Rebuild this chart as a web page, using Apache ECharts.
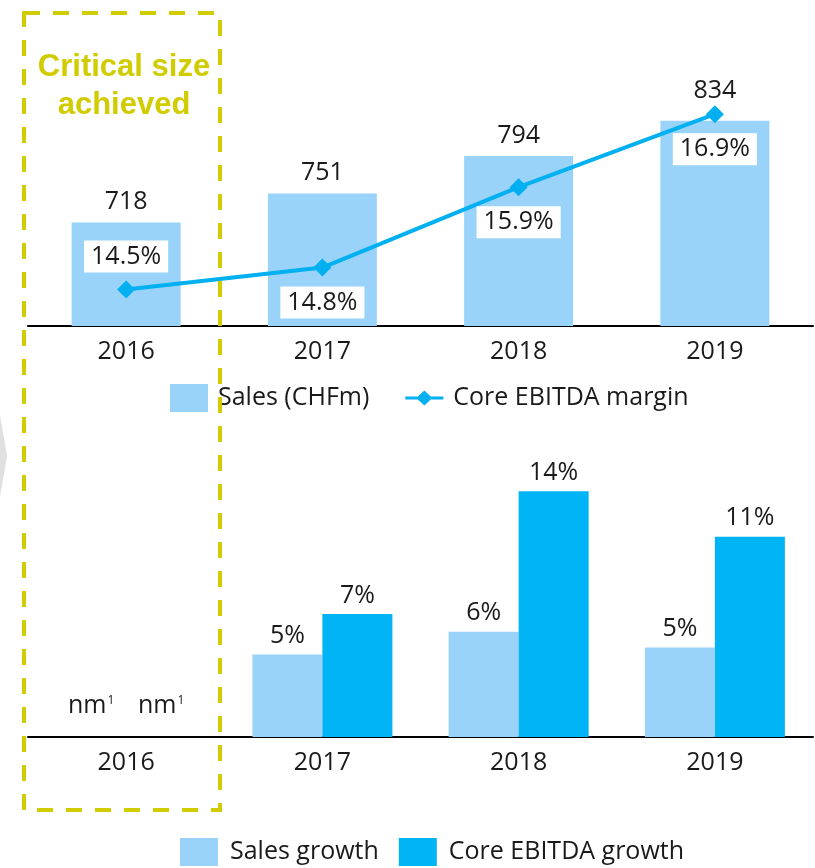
<!DOCTYPE html>
<html>
<head>
    <meta charset="utf-8">
    <title>Sales and Core EBITDA</title>
    <style>
        html, body { margin: 0; padding: 0; background: #fff; }
        #main { width: 815px; height: 868px; }
    </style>
</head>
<body>
    <div id="main"></div>
    <script src="https://cdn.jsdelivr.net/npm/echarts@6/dist/echarts.min.js"></script>
    <script type="text/javascript">
var years = ['2016', '2017', '2018', '2019'];
var sales = [718, 751, 794, 834];
var ebitdaMargin = [14.5, 14.8, 15.9, 16.9];
var marginLabelPos = ['top', 'bottom', 'bottom', 'bottom'];
var salesGrowth = [0, 4.7, 6.0, 5.1];
var ebitdaGrowth = [0, 7.0, 14.0, 11.4];

var lightBlue = '#99d3f9';
var blue = '#00b4f5';
var lineBlue = '#00b0f0';
var ink = '#1a1a1a';
var lime = '#d0cc00';

var myChart = echarts.init(document.getElementById('main'));

function growthLabel(p) {
    if (p.dataIndex === 0) return 'nm{sup|1}';
    return Math.round(p.value) + '%';
}

function growthData(arr) {
    return arr.map(function (v, i) {
        return i === 0 ? { value: v, label: { distance: 19 } } : v;
    });
}

var xLabel = { fontSize: 25, color: ink, margin: 13 };
var axisLine = { lineStyle: { color: '#000', width: 2 } };
// line with a diamond, for the legend
var lineIcon = 'path://M0,6 L12.5,6 L19,0 L25.5,6 L38,6 L38,9 L25.5,9 L19,15 L12.5,9 L0,9 Z';

option = {
    animation: false,
    textStyle: { fontFamily: 'Open Sans' },
    grid: [
        { left: 28, right: 2, top: 63, height: 263 },
        { left: 28, right: 2, top: 456, height: 281 }
    ],
    legend: [
        {
            data: [{ name: 'Sales (CHFm)', icon: 'rect' }, { name: 'Core EBITDA margin', icon: lineIcon }],
            left: 170, top: 384, padding: 0,
            itemWidth: 38, itemHeight: 28, itemGap: 36,
            textStyle: { fontSize: 25, color: ink, padding: [0, 0, 0, 5] }
        },
        {
            data: [{ name: 'Sales growth', icon: 'rect' }, { name: 'Core EBITDA growth', icon: 'rect' }],
            left: 180, top: 838, padding: 0,
            itemWidth: 38, itemHeight: 28, itemGap: 20,
            textStyle: { fontSize: 25, color: ink, padding: [0, 0, 0, 7] }
        }
    ],
    xAxis: [
        { type: 'category', gridIndex: 0, data: years, axisLine: axisLine,
          axisTick: { show: false }, axisLabel: xLabel },
        { type: 'category', gridIndex: 1, data: years, axisLine: axisLine,
          axisTick: { show: false }, axisLabel: xLabel }
    ],
    yAxis: [
        { type: 'value', gridIndex: 0, min: 600, max: 900, show: false, splitLine: { show: false } },
        { type: 'value', gridIndex: 0, min: 14, max: 17.6, show: false, splitLine: { show: false } },
        { type: 'value', gridIndex: 1, min: 0, max: 16, show: false, splitLine: { show: false } }
    ],
    series: [
        {
            name: 'Sales (CHFm)',
            type: 'bar',
            xAxisIndex: 0, yAxisIndex: 0,
            barWidth: 109,
            itemStyle: { color: lightBlue },
            label: { show: true, position: 'top', distance: 8, fontSize: 25, color: ink },
            // last label lifted clear of the margin marker
            data: sales.map(function (v, i) {
                return i === 3 ? { value: v, label: { distance: 17 } } : v;
            })
        },
        {
            name: 'Core EBITDA margin',
            type: 'line',
            xAxisIndex: 0, yAxisIndex: 1,
            symbol: 'diamond',
            symbolSize: 18,
            z: 5,
            lineStyle: { color: lineBlue, width: 4 },
            itemStyle: { color: lineBlue },
            label: {
                show: true, fontSize: 25, color: ink, lineHeight: 26,
                backgroundColor: '#fff', padding: [3, 7],
                formatter: function (p) { return p.value.toFixed(1) + '%'; }
            },
            data: ebitdaMargin.map(function (v, i) {
                return { value: v, label: { position: marginLabelPos[i], distance: i === 0 ? 8 : 10 } };
            })
        },
        {
            name: 'Sales growth',
            type: 'bar',
            xAxisIndex: 1, yAxisIndex: 2,
            barWidth: 70, barGap: '0%',
            itemStyle: { color: lightBlue },
            label: {
                show: true, position: 'top', distance: 6, fontSize: 25, color: ink,
                formatter: growthLabel,
                rich: { sup: { fontSize: 12, padding: [0, 0, 10, 1] } }
            },
            data: growthData(salesGrowth)
        },
        {
            name: 'Core EBITDA growth',
            type: 'bar',
            xAxisIndex: 1, yAxisIndex: 2,
            barWidth: 70, barGap: '0%',
            itemStyle: { color: blue },
            label: {
                show: true, position: 'top', distance: 6, fontSize: 25, color: ink,
                formatter: growthLabel,
                rich: { sup: { fontSize: 12, padding: [0, 0, 10, 1] } }
            },
            data: growthData(ebitdaGrowth)
        }
    ],
    graphic: [
        {
            type: 'polygon', z: 1,
            shape: { points: [[0, 415], [7, 456], [0, 497]] },
            style: { fill: '#e0e0e0' }
        },
        {
            type: 'rect', z: 100,
            shape: { x: 24, y: 13, width: 196, height: 797 },
            style: { fill: 'none', stroke: lime, lineWidth: 4, lineDash: [16, 13] }
        },
        {
            type: 'text', z: 100,
            x: 124, y: 48,
            style: {
                text: 'Critical size\nachieved',
                fill: lime,
                font: 'bold 31px "Liberation Sans", Arial, sans-serif',
                lineHeight: 38,
                align: 'center'
            }
        }
    ]
};

myChart.setOption(option);
    </script>
</body>
</html>
